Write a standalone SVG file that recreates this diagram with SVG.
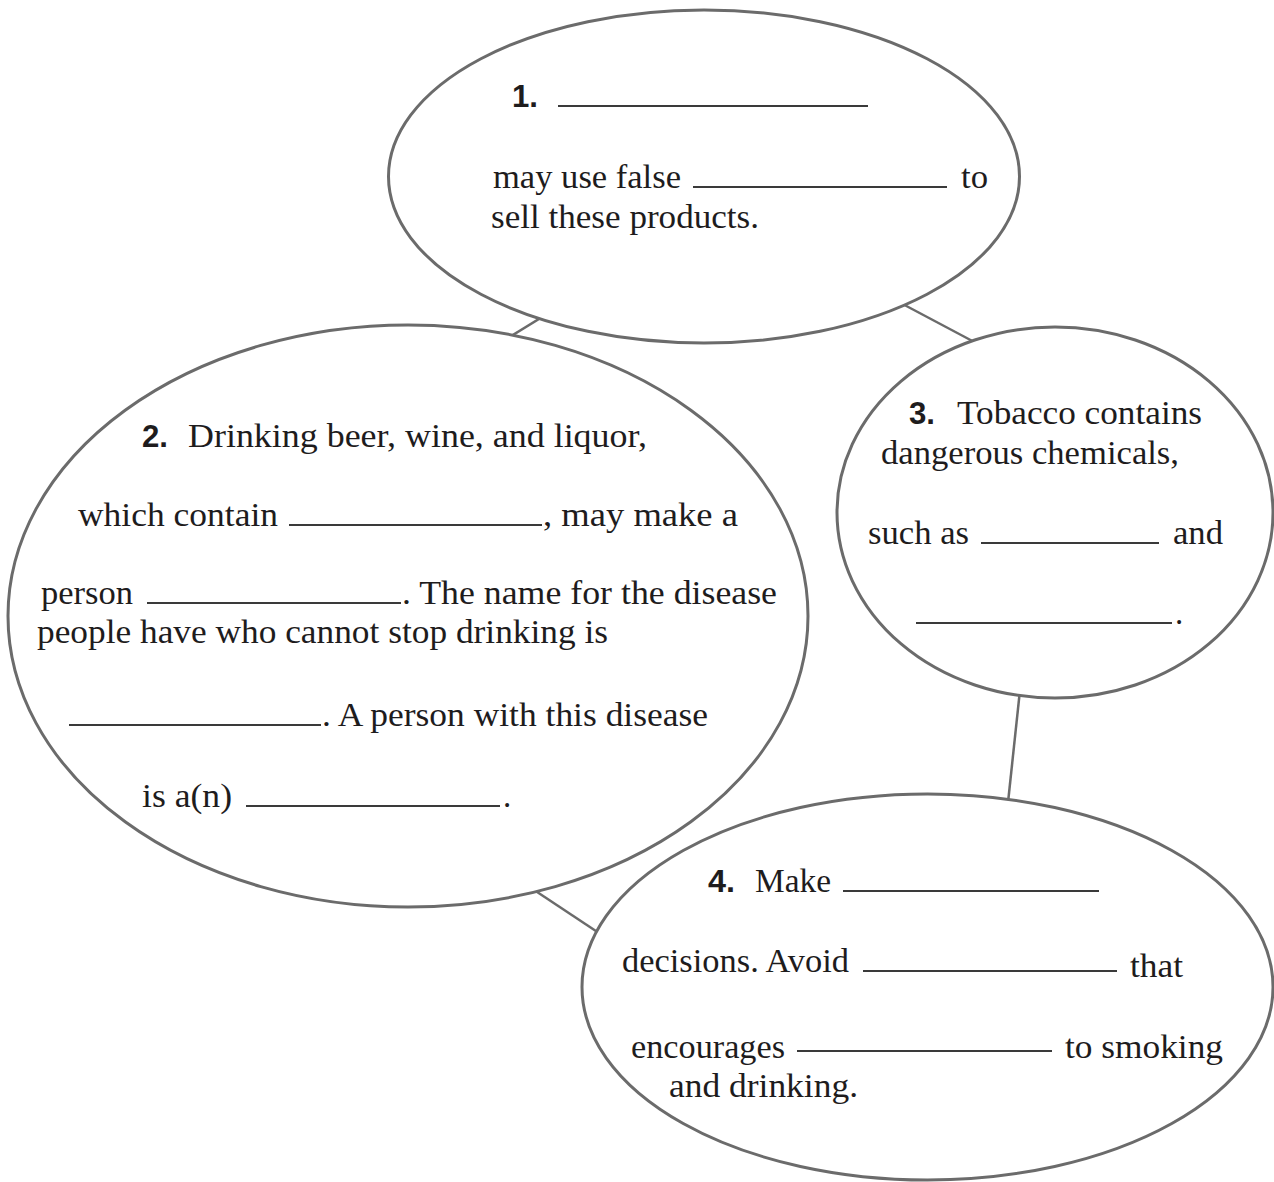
<svg xmlns="http://www.w3.org/2000/svg" width="1274" height="1182" viewBox="0 0 1274 1182">
  <style>
    .bubble { fill: #ffffff; stroke: #6b6b6b; stroke-width: 3; }
    .link { stroke: #6b6b6b; stroke-width: 2.5; fill: none; }
    .txt { font-family: "Liberation Serif", "Times New Roman", serif; font-size: 33px; fill: #1e1c1d; }
    .num { font-family: "Liberation Sans", Arial, sans-serif; font-weight: bold; font-size: 31px; fill: #1e1c1d; }
    .blank { stroke: #3a3a3a; stroke-width: 2; }
  </style>
  <rect width="1274" height="1182" fill="#ffffff"/>

  <!-- connectors between bubbles (drawn first, ends hidden under bubbles) -->
  <g id="connectors">
    <line class="link" x1="490" y1="349" x2="560" y2="306"/>
    <line class="link" x1="880" y1="292" x2="995" y2="353"/>
    <line class="link" x1="510" y1="874" x2="620" y2="947"/>
    <line class="link" x1="1020" y1="690" x2="1007" y2="812"/>
  </g>

  <!-- bubble 1 -->
  <g id="node1">
    <ellipse class="bubble" cx="704" cy="176.5" rx="315.5" ry="166.5"/>
    <text class="num" x="512" y="107" textLength="26" lengthAdjust="spacingAndGlyphs">1.</text>
    <line class="blank" x1="558" y1="106" x2="868" y2="106"/>
    <text class="txt" x="493" y="188" textLength="188" lengthAdjust="spacingAndGlyphs">may use false</text>
    <line class="blank" x1="693" y1="187" x2="947" y2="187"/>
    <text class="txt" x="961" y="188" textLength="27" lengthAdjust="spacingAndGlyphs">to</text>
    <text class="txt" x="491" y="228" textLength="268" lengthAdjust="spacingAndGlyphs">sell these products.</text>
  </g>

  <!-- bubble 2 -->
  <g id="node2">
    <ellipse class="bubble" cx="408" cy="616" rx="400" ry="291"/>
    <text class="num" x="142" y="447" textLength="26" lengthAdjust="spacingAndGlyphs">2.</text>
    <text class="txt" x="188" y="447" textLength="459" lengthAdjust="spacingAndGlyphs">Drinking beer, wine, and liquor,</text>
    <text class="txt" x="78" y="526" textLength="200" lengthAdjust="spacingAndGlyphs">which contain</text>
    <line class="blank" x1="289" y1="525" x2="542" y2="525"/>
    <text class="txt" x="543" y="526" textLength="195" lengthAdjust="spacingAndGlyphs">, may make a</text>
    <text class="txt" x="41" y="604" textLength="92" lengthAdjust="spacingAndGlyphs">person</text>
    <line class="blank" x1="147" y1="603" x2="401" y2="603"/>
    <text class="txt" x="402" y="604" textLength="375" lengthAdjust="spacingAndGlyphs">. The name for the disease</text>
    <text class="txt" x="37" y="643" textLength="571" lengthAdjust="spacingAndGlyphs">people have who cannot stop drinking is</text>
    <line class="blank" x1="69" y1="725" x2="321" y2="725"/>
    <text class="txt" x="322" y="726" textLength="386" lengthAdjust="spacingAndGlyphs">. A person with this disease</text>
    <text class="txt" x="142" y="807" textLength="90" lengthAdjust="spacingAndGlyphs">is a(n)</text>
    <line class="blank" x1="246" y1="806" x2="500" y2="806"/>
    <text class="txt" x="503" y="807">.</text>
  </g>

  <!-- bubble 3 -->
  <g id="node3">
    <ellipse class="bubble" cx="1055" cy="512.5" rx="218" ry="185.5"/>
    <text class="num" x="909" y="424" textLength="26" lengthAdjust="spacingAndGlyphs">3.</text>
    <text class="txt" x="957" y="424" textLength="245" lengthAdjust="spacingAndGlyphs">Tobacco contains</text>
    <text class="txt" x="881" y="464" textLength="298" lengthAdjust="spacingAndGlyphs">dangerous chemicals,</text>
    <text class="txt" x="868" y="544" textLength="101" lengthAdjust="spacingAndGlyphs">such as</text>
    <line class="blank" x1="981" y1="543" x2="1159" y2="543"/>
    <text class="txt" x="1173" y="544" textLength="50" lengthAdjust="spacingAndGlyphs">and</text>
    <line class="blank" x1="916" y1="623" x2="1172" y2="623"/>
    <text class="txt" x="1175" y="624">.</text>
  </g>

  <!-- bubble 4 -->
  <g id="node4">
    <ellipse class="bubble" cx="927.5" cy="987" rx="345.5" ry="193"/>
    <text class="num" x="708" y="892" textLength="27" lengthAdjust="spacingAndGlyphs">4.</text>
    <text class="txt" x="755" y="892" textLength="76" lengthAdjust="spacingAndGlyphs">Make</text>
    <line class="blank" x1="843" y1="891" x2="1099" y2="891"/>
    <text class="txt" x="622" y="972" textLength="227" lengthAdjust="spacingAndGlyphs">decisions. Avoid</text>
    <line class="blank" x1="863" y1="971" x2="1117" y2="971"/>
    <text class="txt" x="1130" y="977" textLength="53" lengthAdjust="spacingAndGlyphs">that</text>
    <text class="txt" x="631" y="1058" textLength="154" lengthAdjust="spacingAndGlyphs">encourages</text>
    <line class="blank" x1="797" y1="1051" x2="1052" y2="1051"/>
    <text class="txt" x="1065" y="1058" textLength="158" lengthAdjust="spacingAndGlyphs">to smoking</text>
    <text class="txt" x="669" y="1097" textLength="189" lengthAdjust="spacingAndGlyphs">and drinking.</text>
  </g>
</svg>
